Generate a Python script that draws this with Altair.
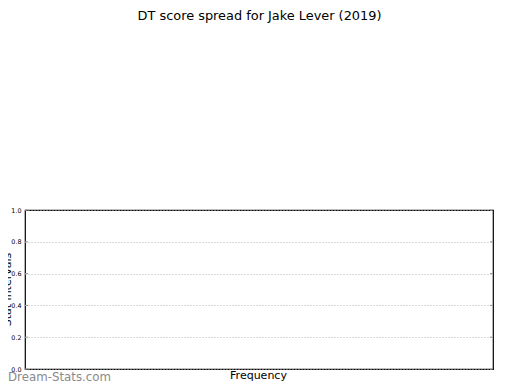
import altair as alt
import pandas as pd

# ---- data ----
y_ticks = [0.0, 0.2, 0.4, 0.6, 0.8, 1.0]
title_text = ["DT score spread for Jake Lever (2019)"]
x_label = ["Frequency"]
y_label = ["Stat intervals"]
watermark = ["Dream-Stats.com"]

W, H = 468, 159
FONT = "DejaVu Sans"

tick_df = pd.DataFrame({"y": y_ticks})

yscale = alt.Scale(domain=[0, 1], nice=False, zero=False)

base = alt.Chart(tick_df)

left_ticks = base.mark_rule(color="#999999", strokeWidth=1).encode(
    y=alt.Y(
        "y:Q",
        scale=yscale,
        axis=alt.Axis(
            values=y_ticks,
            tickCount=len(y_ticks),
            format=".1f",
            title=None,
            domain=False,
            ticks=False,
            tickSize=0,
            labelPadding=4,
            labelFont=FONT,
            labelFontSize=6.4,
            labelColor="#000000",
            labelOverlap=False,
            labelBound=False,
            labelFlush=False,
            grid=True,
            gridColor="#b4b4b4",
            gridDash=[1, 2],
            gridWidth=1,
        ),
    ),
    x=alt.value(0),
    x2=alt.value(3),
)

right_ticks = base.mark_rule(color="#999999", strokeWidth=1).encode(
    y=alt.Y("y:Q", scale=yscale),
    x=alt.value(W - 3),
    x2=alt.value(W),
)


def text_layer(values, x, y, size, color="#000000", angle=0, weight="normal",
               align="center", baseline="alphabetic"):
    return alt.Chart(pd.DataFrame({"t": values})).mark_text(
        font=FONT,
        fontSize=size,
        color=color,
        angle=angle,
        fontWeight=weight,
        align=align,
        baseline=baseline,
    ).encode(text="t:N", x=alt.value(x), y=alt.value(y))


title_layer = text_layer(title_text, 234.5, -190.5, 12.9)
xlabel_layer = text_layer(x_label, 233.5, 169, 11)
ylabel_layer = text_layer(y_label, -14, 79.5, 11, angle=270)
wm_layer = text_layer(watermark, -17, 171, 11.8, color="#8a8a8a",
                      align="left")

chart = alt.layer(
    left_ticks, right_ticks, title_layer, xlabel_layer, ylabel_layer, wm_layer
).properties(
    width=W,
    height=H,
    background="white",
    autosize=alt.AutoSizeParams(type="none"),
    padding={"left": 17, "top": 202, "right": 19, "bottom": 13},
).configure_view(
    stroke="#000000",
    strokeWidth=1.2,
    fill="white",
)

chart.save("out.html", embed_options={"renderer": "svg", "actions": False})
